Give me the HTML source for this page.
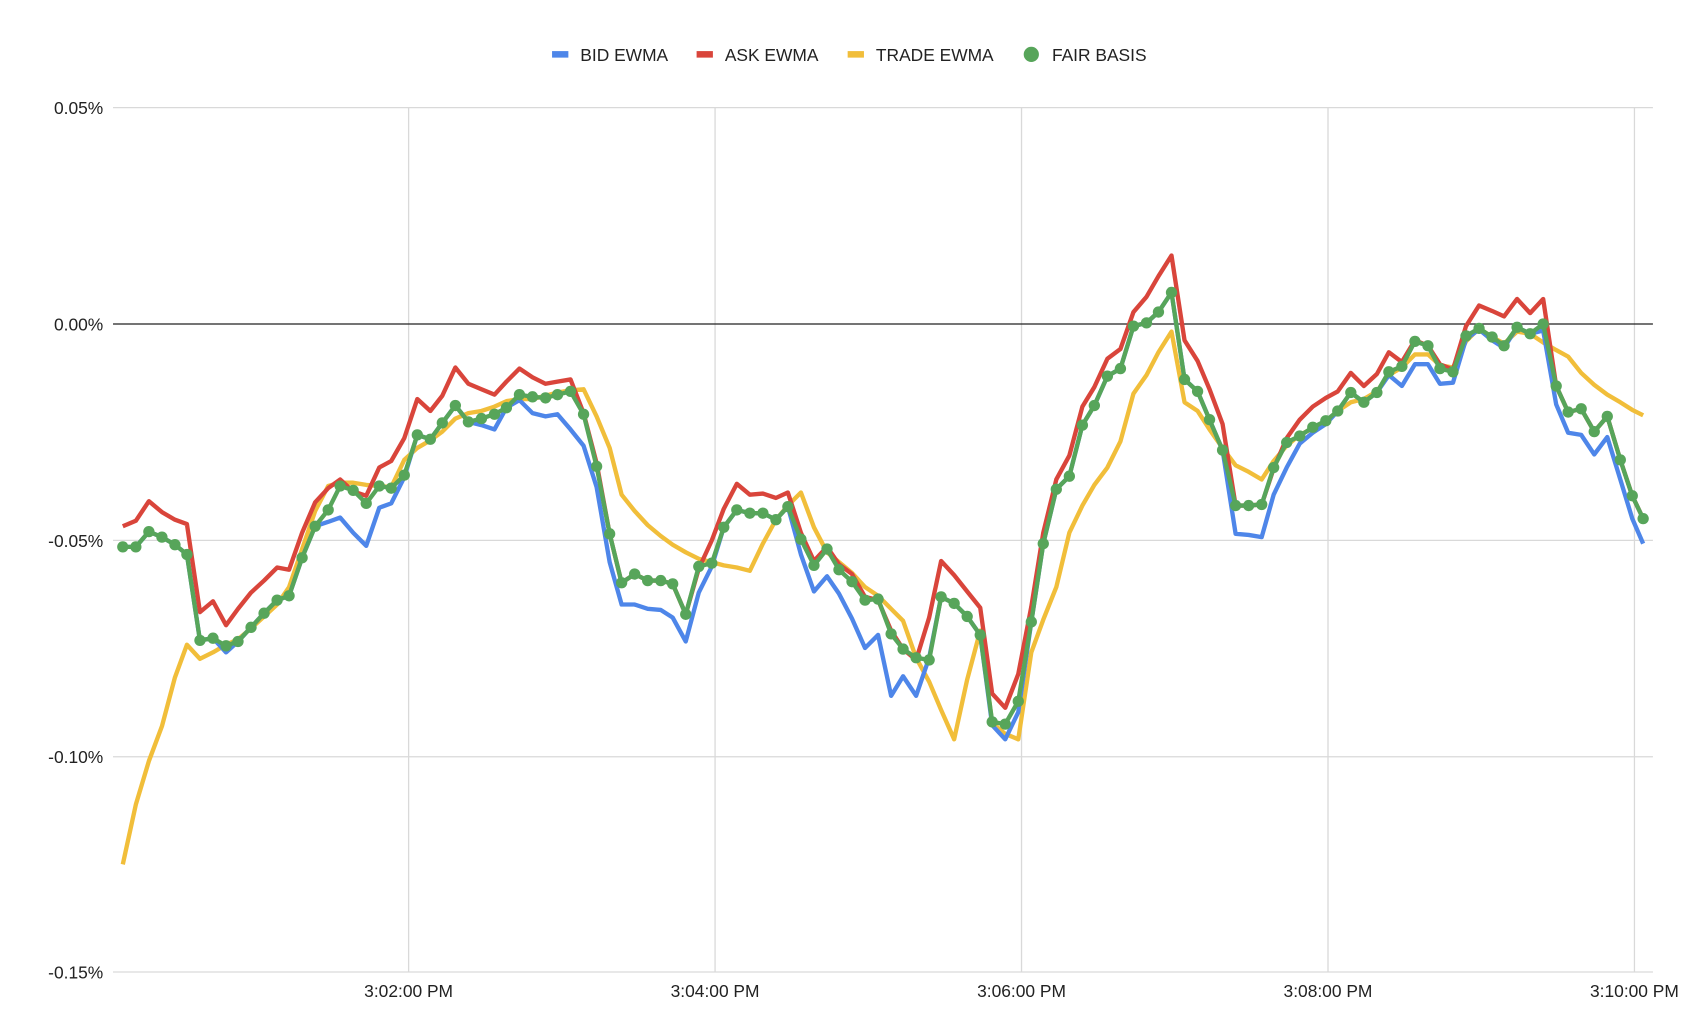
<!DOCTYPE html>
<html><head><meta charset="utf-8"><style>
html,body{margin:0;padding:0;background:#fff;}
svg{display:block;font-family:"Liberation Sans",Arial,sans-serif;}
</style></head><body>
<svg width="1704" height="1022" viewBox="0 0 1568 940" preserveAspectRatio="none" xmlns="http://www.w3.org/2000/svg">
<defs>
<marker id="dot" markerUnits="userSpaceOnUse" markerWidth="14" markerHeight="14" refX="7" refY="7"><circle cx="7" cy="7" r="5.2" fill="#57a55a"/></marker>
</defs>
<rect width="1568" height="940" fill="#fff"/>
<g stroke="#d9d9d9" stroke-width="1.2">
<line x1="104" y1="99" x2="1521" y2="99"/>
<line x1="104" y1="497" x2="1521" y2="497"/>
<line x1="104" y1="696" x2="1521" y2="696"/>
<line x1="104" y1="894" x2="1521" y2="894"/>
<line x1="376" y1="99" x2="376" y2="894"/>
<line x1="658" y1="99" x2="658" y2="894"/>
<line x1="940" y1="99" x2="940" y2="894"/>
<line x1="1222" y1="99" x2="1222" y2="894"/>
<line x1="1504" y1="99" x2="1504" y2="894"/>
</g>
<line x1="104" y1="298" x2="1521" y2="298" stroke="#222" stroke-width="1.2"/>
<g font-size="16" fill="#222" text-anchor="end">
<text x="95" y="105">0.05%</text>
<text x="95" y="304">0.00%</text>
<text x="95" y="503">-0.05%</text>
<text x="95" y="702">-0.10%</text>
<text x="95" y="900">-0.15%</text>
</g>
<g font-size="16" fill="#222" text-anchor="middle">
<text x="376" y="917">3:02:00 PM</text>
<text x="658" y="917">3:04:00 PM</text>
<text x="940" y="917">3:06:00 PM</text>
<text x="1222" y="917">3:08:00 PM</text>
<text x="1504" y="917">3:10:00 PM</text>
</g>
<g font-size="16" fill="#222">
<rect x="508" y="47" width="15" height="6" fill="#4e86e9"/><text x="534" y="56">BID EWMA</text>
<rect x="641" y="47" width="15" height="6" fill="#d9453b"/><text x="667" y="56">ASK EWMA</text>
<rect x="780" y="47" width="15" height="6" fill="#f1be3a"/><text x="806" y="56">TRADE EWMA</text>
<circle cx="949" cy="50" r="7" fill="#57a55a"/><text x="968" y="56">FAIR BASIS</text>
</g>
<g fill="none" stroke-width="4" stroke-linejoin="round">
<polyline stroke="#f1be3a" points="113,795 125,740 137,700 149,668 161,623 172,593 184,606 196,600 208,593 219,588 231,578 243,567 255,556 266,540 278,505 290,470 302,447 313,444 325,444 337,446 349,447 360,448 372,423 384,412 396,405 407,397 419,385 431,380 443,378 455,374 466,369 478,367 490,367 502,364 513,361 525,359 537,358 549,383 561,412 572,455 584,470 596,483 608,493 619,501 631,508 643,514 655,517 666,520 678,522 690,525 702,500 714,478 725,465 737,453 749,485 761,508 772,517 784,527 796,540 808,548 820,560 831,571 843,605 855,627 866,653 878,680 890,625 902,580 913,665 925,675 937,680 949,600 960,570 972,540 984,490 996,465 1007,446 1019,430 1031,406 1043,362 1055,345 1066,324 1078,305 1090,370 1102,378 1113,395 1125,412 1137,428 1149,434 1161,441 1172,424 1184,410 1196,400 1208,394 1220,388 1231,378 1243,370 1255,367 1267,360 1278,345 1290,338 1302,326 1314,326 1325,336 1337,338 1349,314 1361,302 1373,310 1384,316 1396,305 1408,307 1420,315 1432,322 1443,328 1455,343 1467,354 1479,363 1491,370 1502,377 1512,382"/>
<polyline stroke="#4e86e9" points="113,503 125,503 137,489 149,494 161,501 172,510 184,589 196,587 208,600 219,590 231,577 243,564 255,552 266,548 278,513 290,484 302,480 313,476 325,490 337,502 349,467 360,463 372,439 384,400 396,404 407,389 419,373 431,388 443,391 455,395 466,375 478,368 490,380 502,383 513,381 525,395 537,410 549,448 561,517 572,556 584,556 596,560 608,561 619,568 631,590 643,545 655,521 666,485 678,469 690,472 702,472 714,478 725,466 737,510 749,544 761,530 772,546 784,569 796,596 808,584 820,640 831,622 843,640 855,605 866,549 878,555 890,567 902,584 913,667 925,680 937,655 949,572 960,500 972,450 984,438 996,391 1007,373 1019,346 1031,339 1043,300 1055,297 1066,287 1078,269 1090,349 1102,360 1113,386 1125,414 1137,491 1149,492 1161,494 1172,455 1184,430 1196,408 1208,398 1220,390 1231,378 1243,361 1255,370 1267,361 1278,345 1290,355 1302,335 1314,335 1325,353 1337,352 1349,312 1361,303 1373,313 1384,320 1396,301 1408,307 1420,304 1432,372 1443,398 1455,400 1467,418 1479,402 1491,441 1502,477 1512,500"/>
<polyline stroke="#d9453b" points="113,484 125,479 137,461 149,471 161,478 172,482 184,563 196,553 208,575 219,560 231,545 243,534 255,522 266,524 278,490 290,462 302,449 313,441 325,452 337,456 349,430 360,424 372,403 384,367 396,378 407,364 419,338 431,353 443,358 455,363 466,351 478,339 490,347 502,353 513,351 525,349 537,380 549,426 561,491 572,536 584,528 596,534 608,534 619,537 631,565 643,523 655,497 666,468 678,445 690,455 702,454 714,458 725,453 737,490 749,516 761,503 772,519 784,528 796,549 808,552 820,580 831,597 843,607 855,568 866,516 878,529 890,544 902,559 913,638 925,651 937,620 949,558 960,490 972,441 984,419 996,374 1007,356 1019,330 1031,321 1043,287 1055,273 1066,254 1078,235 1090,313 1102,332 1113,358 1125,390 1137,465 1149,465 1161,464 1172,431 1184,403 1196,386 1208,374 1220,366 1231,360 1243,343 1255,355 1267,344 1278,324 1290,333 1302,313 1314,318 1325,335 1337,340 1349,300 1361,281 1373,286 1384,291 1396,275 1408,288 1420,275 1432,355 1443,379 1455,376 1467,397 1479,383 1491,423 1502,456 1512,477"/>
<polyline stroke="#57a55a" marker-start="url(#dot)" marker-mid="url(#dot)" marker-end="url(#dot)" points="113,503 125,503 137,489 149,494 161,501 172,510 184,589 196,587 208,594 219,590 231,577 243,564 255,552 266,548 278,513 290,484 302,469 313,447 325,451 337,463 349,447 360,449 372,437 384,400 396,404 407,389 419,373 431,388 443,385 455,381 466,375 478,363 490,365 502,366 513,363 525,360 537,381 549,429 561,491 572,536 584,528 596,534 608,534 619,537 631,565 643,521 655,518 666,485 678,469 690,472 702,472 714,478 725,466 737,496 749,520 761,505 772,524 784,535 796,552 808,551 820,583 831,597 843,605 855,607 866,549 878,555 890,567 902,584 913,664 925,666 937,645 949,572 960,500 972,450 984,438 996,391 1007,373 1019,346 1031,339 1043,300 1055,297 1066,287 1078,269 1090,349 1102,360 1113,386 1125,414 1137,465 1149,465 1161,464 1172,430 1184,407 1196,401 1208,393 1220,387 1231,378 1243,361 1255,370 1267,361 1278,342 1290,337 1302,314 1314,318 1325,339 1337,342 1349,309 1361,302 1373,310 1384,318 1396,301 1408,307 1420,298 1432,355 1443,379 1455,376 1467,397 1479,383 1491,423 1502,456 1512,477"/>
</g>
</svg>
</body></html>
